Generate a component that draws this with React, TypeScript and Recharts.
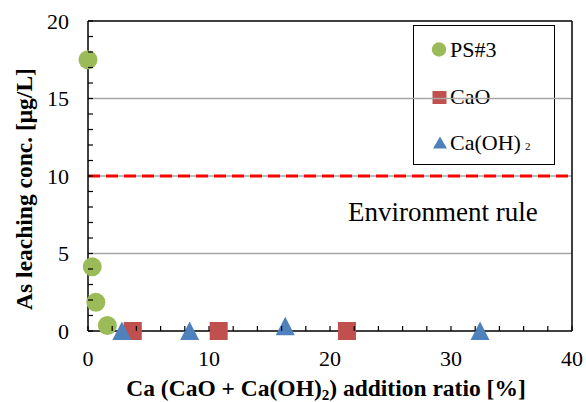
import React from 'react';
import { ScatterChart, Scatter, XAxis, YAxis, ReferenceLine } from 'recharts';

const seriesNames = ['PS#3', 'CaO', 'Ca(OH)'];
const colors = ['#9BBB59', '#C0504D', '#4F81BD'];

const ps3X = [0, 0.35, 0.65, 1.6];
const ps3Y = [17.5, 4.15, 1.85, 0.35];
const caoX = [3.7, 10.8, 21.4];
const caoY = [0, 0, 0];
const caohX = [2.8, 8.4, 16.3, 32.4];
const caohY = [0, 0, 0.3, 0];

const xTicks = [0, 2, 4, 6, 8, 10, 12, 14, 16, 18, 20, 22, 24, 26, 28, 30, 32, 34, 36, 38, 40];
const yTicks = [0, 1, 2, 3, 4, 5, 6, 7, 8, 9, 10, 11, 12, 13, 14, 15, 16, 17, 18, 19, 20];
const gridValues = [5, 10, 15];
const limitValue = 10;

const toPoints = (xs: number[], ys: number[]) => xs.map((x, i) => ({ x, y: ys[i] }));
const ps3 = toPoints(ps3X, ps3Y);
const cao = toPoints(caoX, caoY);
const caoh = toPoints(caohX, caohY);

const FONT = '"Liberation Serif", "Times New Roman", serif';
const fontStyle = { fontFamily: FONT };

const Circle = (p: any) => <circle cx={p.cx} cy={p.cy} r={9.5} fill={colors[0]} />;
const Square = (p: any) => <rect x={p.cx - 9} y={p.cy - 9} width={18} height={18} fill={colors[1]} />;
const Triangle = (p: any) => (
  <polygon points={`${p.cx},${p.cy - 9.5} ${p.cx + 9.5},${p.cy + 9} ${p.cx - 9.5},${p.cy + 9}`} fill={colors[2]} />
);

const YTick = (p: any) => {
  const v = p.payload.value;
  return (
    <g>
      <line x1={p.x} x2={p.x + 5} y1={p.y} y2={p.y} stroke="#000" strokeWidth={1.2} />
      {v % 5 === 0 && (
        <text x={p.x - 19} y={p.y} dy="0.35em" textAnchor="end" fontSize={22} fontFamily={FONT} style={fontStyle} fill="#000">
          {v}
        </text>
      )}
    </g>
  );
};

const XTick = (p: any) => {
  const v = p.payload.value;
  return (
    <g>
      <line x1={p.x} x2={p.x} y1={p.y} y2={p.y - 5} stroke="#000" strokeWidth={1.2} />
      {v % 10 === 0 && (
        <text x={p.x} y={p.y + 35} textAnchor="middle" fontSize={22} fontFamily={FONT} style={fontStyle} fill="#000">
          {v}
        </text>
      )}
    </g>
  );
};

const LegendBox = () => (
  <g fontFamily={FONT} style={fontStyle} fontSize={22} fill="#000">
    <rect x={413.5} y={25.5} width={141} height={139} fill="#fff" stroke="#000" strokeWidth={1} />
    <circle cx={439} cy={49.5} r={7.2} fill={colors[0]} />
    <text x={450} y={57}>{seriesNames[0]}</text>
    <rect x={432.5} y={91} width={14} height={13} fill={colors[1]} />
    <text x={450} y={104}>{seriesNames[1]}</text>
    <polygon points="440,136.5 447,148.5 433,148.5" fill={colors[2]} />
    <text x={450} y={150}>
      {seriesNames[2]}
      <tspan dx={4} fontSize={11}>2</tspan>
    </text>
  </g>
);

export default function App() {
  return (
    <div style={{ position: 'absolute', left: 0, top: 0, background: '#fff' }}>
      <ScatterChart width={586} height={402} margin={{ top: 21, right: 14, bottom: 0, left: 0 }}>
        <XAxis
          type="number"
          dataKey="x"
          domain={[0, 40]}
          ticks={xTicks}
          interval={0}
          tickSize={0}
          tickMargin={0}
          tick={<XTick />}
          axisLine={{ stroke: '#000', strokeWidth: 1.5 }}
          height={71}
        />
        <YAxis
          type="number"
          dataKey="y"
          domain={[0, 20]}
          ticks={yTicks}
          interval={0}
          tickSize={0}
          tickMargin={0}
          tick={<YTick />}
          axisLine={{ stroke: '#000', strokeWidth: 1.5 }}
          width={88}
        />
        {gridValues.map((g) => (
          <ReferenceLine key={g} y={g} stroke="#A6A6A6" strokeWidth={1.5} />
        ))}
        <ReferenceLine y={20} stroke="#000" strokeWidth={1.5} />
        <ReferenceLine x={40} stroke="#000" strokeWidth={1.5} />
        <ReferenceLine
          y={limitValue}
          stroke="#FF0000"
          strokeWidth={3}
          strokeDasharray="12 6"
          label={(props: any) => {
            const vb = props.viewBox || {};
            return (
              <text x={vb.x + vb.width - 224} y={vb.y + 45} fontSize={27} fontFamily={FONT} style={fontStyle} fill="#000">
                Environment rule
              </text>
            );
          }}
        />
        <Scatter name={seriesNames[0]} data={ps3} shape={Circle} isAnimationActive={false} />
        <Scatter name={seriesNames[1]} data={cao} shape={Square} isAnimationActive={false} />
        <Scatter name={seriesNames[2]} data={caoh} shape={Triangle} isAnimationActive={false} />
        <LegendBox />
        <text x={31.5} y={189} transform="rotate(-90 31.5 189)" textAnchor="middle" fontSize={23.5} fontWeight="bold" fontFamily={FONT} style={fontStyle} fill="#000">
          As leaching conc. [μg/L]
        </text>
        <text x={326} y={396} textAnchor="middle" fontSize={23.5} fontWeight="bold" fontFamily={FONT} style={fontStyle} fill="#000">
          Ca (CaO + Ca(OH)<tspan fontSize={15} dy={4}>2</tspan><tspan dy={-4}>) addition ratio [%]</tspan>
        </text>
      </ScatterChart>
    </div>
  );
}
